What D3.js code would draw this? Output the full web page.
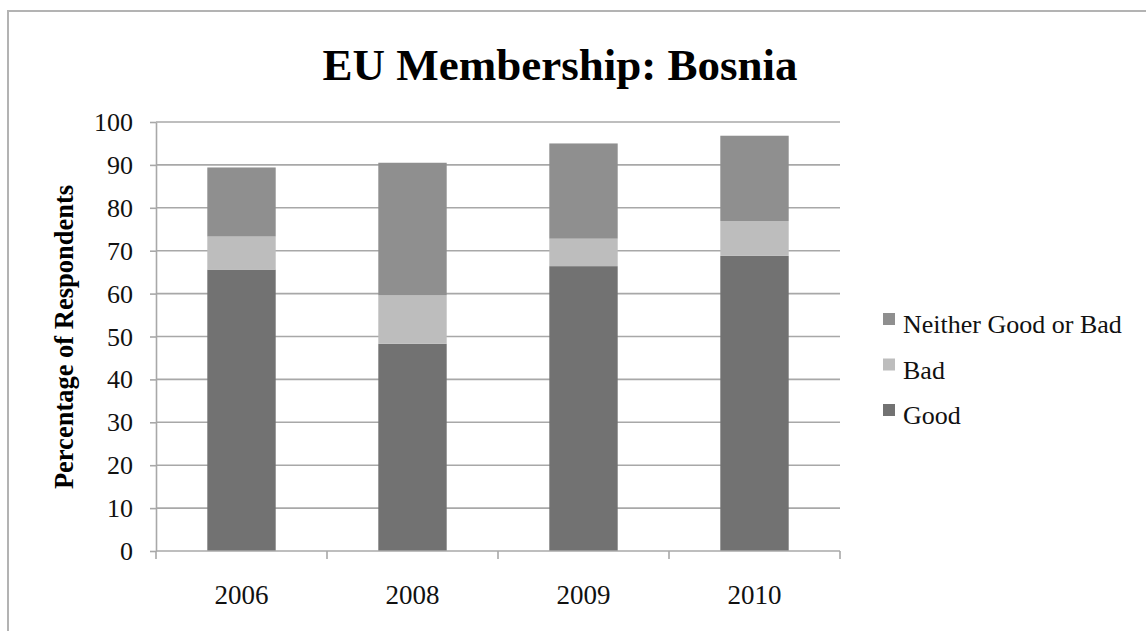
<!DOCTYPE html>
<html><head><meta charset="utf-8">
<script src="https://cdn.jsdelivr.net/npm/d3@7"></script>
<style>body{margin:0;background:#fff;}svg{display:block;}</style>
</head><body>
<script>
const categories = ["2006", "2008", "2009", "2010"];
const good = [65.6, 48.3, 66.4, 68.8];
const bad = [7.7, 11.3, 6.4, 8.1];
const neither = [16.1, 30.9, 22.2, 19.9];
const seriesNames = ["Good", "Bad", "Neither Good or Bad"];
const yTicks = [0, 10, 20, 30, 40, 50, 60, 70, 80, 90, 100];

const W = 1146, H = 631;
const svg = d3.select("body").append("svg").attr("width", W).attr("height", H);
const font = "'Liberation Serif','Times New Roman',serif";

svg.append("rect").attr("x", 8).attr("y", 11).attr("width", 1160).attr("height", 700)
  .attr("fill", "#fff").attr("stroke", "#b3b3b3").attr("stroke-width", 2);

const x = d3.scaleBand().domain(categories).range([156, 840]).paddingInner(0.6).paddingOuter(0.3);
const y = d3.scaleLinear().domain([0, 100]).range([551, 122]);
const colors = {"Good": "#727272", "Bad": "#bdbdbd", "Neither Good or Bad": "#8f8f8f"};
const gridColor = "#a8a8a8";

// gridlines
svg.append("g").selectAll("line").data(yTicks.filter(d => d > 0)).join("line")
  .attr("x1", 156).attr("x2", 840).attr("y1", d => y(d)).attr("y2", d => y(d))
  .attr("stroke", gridColor).attr("stroke-width", 1.6);

// stacked bars
const rows = categories.map((c, i) => ({cat: c, "Good": good[i], "Bad": bad[i], "Neither Good or Bad": neither[i]}));
const stack = d3.stack().keys(seriesNames)(rows);
svg.append("g").selectAll("g").data(stack).join("g").attr("fill", d => colors[d.key])
  .selectAll("rect").data(d => d).join("rect")
  .attr("x", d => x(d.data.cat)).attr("width", x.bandwidth())
  .attr("y", d => y(d[1])).attr("height", d => y(d[0]) - y(d[1]));

// y axis
const yAxis = svg.append("g").attr("transform", "translate(156,0)")
  .call(d3.axisLeft(y).tickValues(yTicks).tickSize(6).tickPadding(17).tickSizeOuter(0));
yAxis.select(".domain").attr("stroke", gridColor).attr("stroke-width", 1.6);
yAxis.selectAll(".tick line").attr("stroke", gridColor).attr("stroke-width", 1.6);
yAxis.selectAll("text").attr("font-family", font).attr("font-size", 26).attr("fill", "#111").attr("dy", "0.33em");

// x axis
const xAxis = svg.append("g").attr("transform", "translate(0,551)");
xAxis.append("line").attr("x1", 156).attr("x2", 840).attr("stroke", gridColor).attr("stroke-width", 1.6);
xAxis.selectAll(".tk").data(categories.concat([""])).join("line").attr("class", "tk")
  .attr("x1", (d, i) => i < categories.length ? x(d) - x.step() * x.paddingInner() / 2 : 840)
  .attr("x2", (d, i) => i < categories.length ? x(d) - x.step() * x.paddingInner() / 2 : 840)
  .attr("y1", 0).attr("y2", 8).attr("stroke", gridColor).attr("stroke-width", 1.6);
xAxis.selectAll("text").data(categories).join("text")
  .attr("x", d => x(d) + x.bandwidth() / 2).attr("y", 53)
  .attr("text-anchor", "middle").attr("font-family", font).attr("font-size", 27).attr("fill", "#111")
  .text(d => d);

// title
svg.append("text").attr("x", 560).attr("y", 80).attr("text-anchor", "middle")
  .attr("font-family", font).attr("font-weight", "bold").attr("font-size", 45).attr("fill", "#000")
  .text("EU Membership: Bosnia");

// y label
svg.append("text").attr("transform", "translate(73,337) rotate(-90)").attr("text-anchor", "middle")
  .attr("font-family", font).attr("font-weight", "bold").attr("font-size", 26.5).attr("fill", "#000")
  .text("Percentage of Respondents");

// legend
const legendOrder = ["Neither Good or Bad", "Bad", "Good"];
const lg = svg.append("g").selectAll("g").data(legendOrder).join("g")
  .attr("transform", (d, i) => `translate(883,${313 + i * 45.5})`);
lg.append("rect").attr("width", 12).attr("height", 12).attr("fill", d => colors[d]);
lg.append("text").attr("x", 20).attr("y", 20).attr("font-family", font).attr("font-size", 26).attr("fill", "#111")
  .text(d => d);
</script>
</body></html>
